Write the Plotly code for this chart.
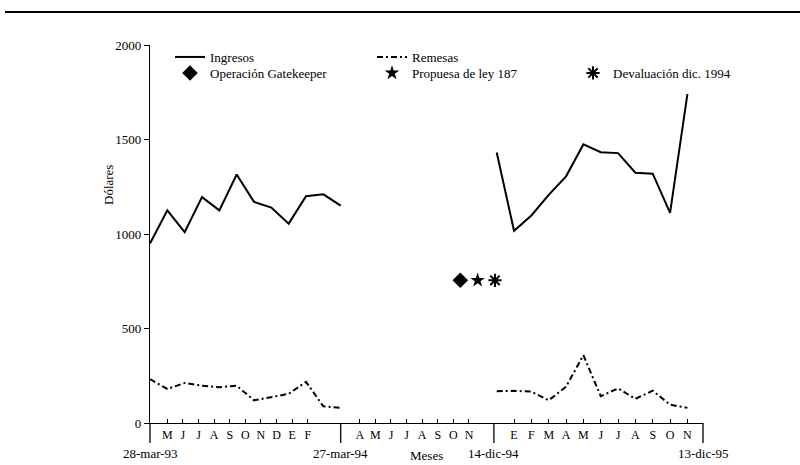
import plotly.graph_objects as go

# ---------------- data ----------------
# Segment 1: mar-93 .. feb-94 (month index 0..11)
mes_93 = list(range(0, 12))
ingresos_93 = [950, 1125, 1010, 1195, 1125, 1315, 1170, 1140, 1055, 1200, 1210, 1150]
remesas_93 = [232, 180, 212, 197, 189, 197, 120, 137, 154, 218, 88, 80]

# Segment 3: dic-94 .. nov-95 (month index 20..31)
mes_95 = list(range(20, 32))
ingresos_95 = [1431, 1017, 1098, 1207, 1305, 1474, 1433, 1428, 1324, 1319, 1112, 1740]
remesas_95 = [168, 170, 166, 120, 192, 359, 142, 183, 128, 171, 97, 80]

# Events
eventos = ["Operación Gatekeeper", "Propuesa de ley 187", "Devaluación dic. 1994"]
eventos_x = [17.9, 18.9, 19.9]
eventos_y = [755, 755, 755]
eventos_simbolo = ["diamond", "star", "asterisk-open"]

# Tick labels
meses_1 = ["M", "J", "J", "A", "S", "O", "N", "D", "E", "F"]
meses_2 = ["A", "M", "J", "J", "A", "S", "O", "N"]
meses_3 = ["E", "F", "M", "A", "M", "J", "J", "A", "S", "O", "N"]
fechas = ["28-mar-93", "27-mar-94", "14-dic-94", "13-dic-95"]
fechas_x = [0, 11, 19.84, 31.9]

# ---------------- layout constants ----------------
X0, X1 = 0, 31.9
Y0, Y1 = 0, 2000
L, R, T, B = 150, 97, 45, 42
W, H = 800, 465
PW = W - L - R
PH = H - T - B
FONT = "Liberation Serif"

def xp(x):
    return (x - X0) / (X1 - X0)

def xp_px(px):
    return (px - L) / PW

def yp_px(py):
    return (H - B - py) / PH

tickvals = [1.0 + 0.9 * i for i in range(len(meses_1))] \
    + [12.1 + 0.9 * i for i in range(len(meses_2))] \
    + [21 + i for i in range(len(meses_3))]
ticktext = meses_1 + meses_2 + meses_3

fig = go.Figure()

line_style = dict(color="black", width=2)
dash_style = dict(color="black", width=2, dash="6px,3px,2px,3px")
fig.add_trace(go.Scatter(x=mes_93, y=ingresos_93, mode="lines", name="Ingresos",
                         line=line_style, legendgroup="ing", legend="legend"))
fig.add_trace(go.Scatter(x=mes_95, y=ingresos_95, mode="lines", name="Ingresos",
                         line=line_style, legendgroup="ing", showlegend=False))
fig.add_trace(go.Scatter(x=mes_93, y=remesas_93, mode="lines", name="Remesas",
                         line=dash_style, legendgroup="rem", legend="legend"))
fig.add_trace(go.Scatter(x=mes_95, y=remesas_95, mode="lines", name="Remesas",
                         line=dash_style, legendgroup="rem", showlegend=False))

legend_ids = ["legend2", "legend2", "legend3"]
for nombre, ex, ey, sym, lg in zip(eventos, eventos_x, eventos_y, eventos_simbolo, legend_ids):
    fig.add_trace(go.Scatter(
        x=[ex], y=[ey], mode="markers", name=nombre, legend=lg,
        marker=dict(symbol=sym, size=12 if sym == "diamond" else 11, color="black",
                    line=dict(color="black", width=2 if sym == "asterisk-open" else 0)),
    ))

shapes = []
# top rule
shapes.append(dict(type="line", xref="paper", yref="paper",
                   x0=xp_px(5), x1=xp_px(800), y0=yp_px(12), y1=yp_px(12),
                   line=dict(color="black", width=2)))
# vertical dividers below axis
for fx in fechas_x:
    shapes.append(dict(type="line", xref="paper", yref="paper",
                       x0=xp(fx), x1=xp(fx), y0=0, y1=yp_px(443),
                       line=dict(color="black", width=1.3)))

annotations = []
for f, fx in zip(fechas, fechas_x):
    annotations.append(dict(text=f, xref="paper", yref="paper", x=xp(fx), y=yp_px(453),
                            showarrow=False, xanchor="center", yanchor="middle",
                            font=dict(family=FONT, size=13, color="black")))
annotations.append(dict(text="Meses", xref="paper", yref="paper", x=0.5, y=yp_px(455),
                        showarrow=False, xanchor="center", yanchor="middle",
                        font=dict(family=FONT, size=13, color="black")))
annotations.append(dict(text="Dólares", xref="paper", yref="paper",
                        x=xp_px(108), y=yp_px(185), textangle=-90,
                        showarrow=False, xanchor="center", yanchor="middle",
                        font=dict(family=FONT, size=13, color="black")))

leg_common = dict(orientation="h", xanchor="left", yanchor="top",
                  bgcolor="rgba(0,0,0,0)", entrywidth=157, entrywidthmode="pixels",
                  font=dict(family=FONT, size=13, color="black"),
                  traceorder="normal", itemwidth=30)

fig.update_layout(
    width=W, height=H,
    margin=dict(l=L, r=R, t=T, b=B),
    paper_bgcolor="white", plot_bgcolor="white",
    font=dict(family=FONT, size=13, color="black"),
    xaxis=dict(range=[X0, X1], showgrid=False, zeroline=False, showline=True,
               linecolor="black", linewidth=1.3, ticks="inside", ticklen=4,
               tickcolor="black", tickvals=tickvals, ticktext=ticktext,
               tickfont=dict(family=FONT, size=12, color="black")),
    yaxis=dict(range=[Y0, Y1], showgrid=False, zeroline=False, showline=True,
               linecolor="black", linewidth=1.3, ticks="outside", ticklen=5,
               tickcolor="black", tickvals=[0, 500, 1000, 1500, 2000],
               tickfont=dict(family=FONT, size=13, color="black")),
    legend=dict(leg_common, x=xp_px(170), y=yp_px(42)),
    legend2=dict(leg_common, x=xp_px(170), y=yp_px(58)),
    legend3=dict(leg_common, x=xp_px(573), y=yp_px(58)),
    shapes=shapes,
    annotations=annotations,
    showlegend=True,
)

fig.write_html("out.html", config={"displayModeBar": False},
               post_script="document.body.style.margin='0';document.body.style.padding='0';")
